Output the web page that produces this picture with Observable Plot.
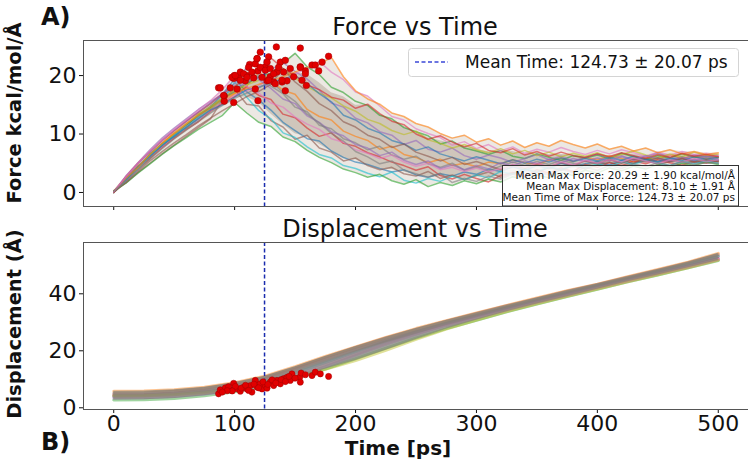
<!DOCTYPE html>
<html><head><meta charset="utf-8">
<script src="https://cdn.jsdelivr.net/npm/d3@7"></script>
<script src="https://cdn.jsdelivr.net/npm/@observablehq/plot@0.6"></script>
<style>
body{margin:0;background:#fff;font-family:"DejaVu Sans",sans-serif;}
#wrap{position:relative;width:748px;height:468px;overflow:hidden;background:#fff;}
#wrap > svg{position:absolute;left:0;}
</style></head><body><div id="wrap"></div><script>
// ---- data ----
const timeF = [0,10,20,30,40,50,60,70,80,90,100,110,120,130,140,150,160,170,180,190,200,210,220,230,240,250,260,270,280,290,300,310,320,330,340,350,360,370,380,390,400,410,420,430,440,450,460,470,480,490,500];
const forceRun01 = [0.0,2.1,4.3,6.4,8.0,9.9,11.5,13.0,14.6,16.8, 19.4,17.2,15.8,14.1,12.0,10.6,9.2,8.8,7.1,6.0, 5.2,4.8,4.1,3.5,3.9,3.0,2.6,3.2,2.8,3.5, 3.1,4.0,3.6,4.4,3.8,4.6,4.1,5.0,4.5,4.9, 5.3,4.7,5.5,5.0,5.8,5.2,5.6,6.1,5.4,5.9, 5.5];
const forceRun02 = [0.2,2.5,4.6,6.1,8.4,10.1,11.0,12.7,14.2,15.3, 16.9,18.2,20.6,19.1,17.5,16.8,14.2,13.0,12.4,10.5, 9.6,8.9,7.4,7.9,6.5,6.0,5.1,5.7,4.6,5.0, 4.4,5.2,4.9,5.6,5.1,4.8,5.5,5.9,5.3,6.0, 5.6,6.3,5.8,5.2,6.0,5.7,6.4,5.9,6.2,5.8, 6.1];
const forceRun03 = [0.0,2.3,4.1,6.6,8.3,9.5,11.4,13.3,14.5,16.0, 17.2,18.6,19.8,20.4,22.1,23.8,21.5,20.2,18.0,17.1, 15.6,14.9,13.2,12.6,11.1,10.4,9.7,8.3,8.8,7.6, 7.1,6.5,7.2,6.2,5.8,6.6,6.0,5.5,6.3,5.9, 6.4,5.8,6.7,6.1,5.6,6.3,5.9,6.6,6.0,6.2, 5.9];
const forceRun04 = [0.1,1.9,4.0,5.8,7.7,9.3,10.8,12.1,13.9,15.2, 16.4,18.1,16.6,15.9,13.4,12.8,11.0,9.6,10.2,8.4, 7.9,6.8,6.1,5.2,4.6,3.8,4.4,2.9,2.3,3.1, 2.4,1.8,2.9,3.4,2.7,3.9,3.3,4.2,3.6,4.8, 4.3,5.1,4.6,5.4,4.9,5.6,5.1,4.7,5.3,5.0, 5.4];
const forceRun05 = [0.0,2.8,5.1,7.3,9.3,11.0,12.6,14.2,15.6,16.8, 17.6,18.9,19.7,21.0,22.2,20.7,19.4,17.5,15.3,14.6, 12.7,11.9,10.4,9.8,8.2,8.9,7.4,6.9,7.6,6.3, 5.7,6.4,5.9,5.1,5.8,6.5,5.6,6.2,5.4,6.0, 6.6,5.9,6.3,5.5,6.1,6.8,6.0,5.7,6.4,6.1, 6.3];
const forceRun06 = [0.3,1.6,3.4,5.0,6.6,8.1,9.6,11.1,12.6,15.9, 17.6,15.1,14.8,12.3,11.2,9.1,9.8,7.6,6.9,5.4, 5.9,4.6,3.9,4.3,3.2,2.8,3.6,2.4,3.0,2.2, 2.9,3.5,2.6,3.3,4.0,3.4,4.3,3.8,4.6,4.0, 4.7,5.2,4.5,5.0,5.6,4.8,5.3,5.8,5.1,5.5, 5.2];
const forceRun07 = [0.1,2.0,4.2,6.2,7.9,9.6,11.3,12.5,14.0,15.4, 16.6,17.4,18.3,19.5,18.8,20.3,21.2,22.4,20.6,19.3, 17.2,16.5,14.8,13.0,12.4,10.9,10.1,9.4,8.1,8.7, 7.5,8.2,7.1,7.8,6.7,7.4,6.9,7.7,7.0,6.5, 7.2,6.6,7.3,6.8,6.2,6.9,6.4,7.0,6.5,6.7, 6.4];
const forceRun08 = [0.0,2.2,4.4,6.0,8.1,9.8,11.6,13.1,14.8,16.1, 17.4,18.7,20.1,18.2,16.9,14.6,13.8,11.5,10.9,9.2, 8.5,7.3,7.9,6.4,5.7,6.2,4.9,4.3,5.0,3.8, 4.4,3.7,4.5,5.2,4.6,5.3,4.8,5.5,5.0,4.6, 5.2,5.7,5.1,5.8,5.4,6.0,5.5,5.1,5.7,5.3, 5.6];
const forceRun09 = [0.2,2.3,4.3,6.5,8.2,10.0,11.7,13.4,14.7,16.2, 17.5,18.4,19.2,20.0,21.1,19.6,18.1,17.0,16.2,14.8, 13.9,12.5,11.8,10.6,9.9,10.5,9.0,8.4,7.6,8.2, 7.3,6.8,7.5,6.6,7.2,6.3,6.9,6.1,6.7,6.2, 6.8,6.0,6.5,7.1,6.4,5.9,6.6,6.1,6.9,6.3, 6.6];
const forceRun10 = [0.0,2.2,4.0,6.3,8.2,9.7,11.2,12.8,14.3,15.8, 18.9,16.3,14.0,12.6,10.2,9.4,7.8,6.5,5.9,4.6, 4.1,3.3,2.7,3.5,2.1,1.6,2.4,1.9,2.8,2.2, 3.0,2.5,3.6,3.1,4.0,3.5,4.4,3.9,4.7,4.2, 4.9,4.4,5.2,4.8,5.5,5.0,4.6,5.3,4.9,5.4, 5.0];
const forceRun11 = [0.1,2.1,4.4,6.2,8.0,9.6,11.1,12.6,14.1,15.0, 16.3,17.6,18.0,18.8,19.4,20.0,18.6,16.9,15.5,13.2, 12.4,11.0,10.2,8.9,8.3,7.2,7.8,6.6,6.0,5.4, 6.1,5.5,4.9,5.6,5.0,5.7,5.2,5.9,5.3,5.8, 5.4,6.0,5.5,6.2,5.7,5.3,5.9,5.4,6.1,5.7, 6.0];
const forceRun12 = [0.0,2.4,4.2,6.5,8.4,10.2,11.8,13.2,14.4,15.9, 17.0,17.8,18.5,19.1,19.8,20.6,21.4,21.9,23.1,19.8, 17.4,16.0,15.1,13.6,13.0,11.8,11.2,10.1,9.3,9.8, 8.6,9.2,8.1,8.8,7.7,8.5,7.9,8.9,8.2,7.6, 8.3,7.4,7.9,7.1,7.6,6.8,7.3,6.6,7.0,6.5, 6.8];
const forceRun13 = [0.2,1.6,3.3,4.9,6.5,8.0,9.4,10.8,12.0,13.2, 15.4,13.6,12.0,11.3,9.5,8.7,7.2,6.0,5.1,4.0, 3.4,2.6,3.1,2.0,1.4,2.2,1.0,1.7,1.2,2.0, 1.5,2.3,1.8,2.7,2.2,3.0,2.5,3.4,2.9,3.8, 3.3,4.2,3.7,4.5,4.0,4.8,4.3,5.0,4.6,5.2, 4.8];
const forceRun14 = [0.0,2.7,5.0,7.0,8.9,10.6,12.2,13.7,15.2,16.9, 18.2,19.5,20.8,23.0,21.2,20.0,18.4,17.6,16.3,15.8, 14.4,15.1,13.5,12.2,11.6,10.0,9.1,9.7,8.6,7.8, 8.4,7.2,6.8,7.5,6.4,7.0,6.2,6.9,6.3,6.0, 6.6,6.1,6.8,6.3,5.8,6.5,6.0,6.7,6.2,6.5, 6.1];
const forceRun15 = [0.1,2.6,4.9,6.9,8.9,10.6,12.2,13.8,15.3,16.9, 18.6,21.4,19.3,17.8,16.0,15.2,13.1,12.0,10.4,9.7, 8.2,7.6,6.3,6.9,5.5,4.8,5.4,4.1,4.7,3.9, 4.6,4.0,5.1,4.5,5.4,4.9,5.7,5.1,5.8,5.3, 5.9,5.4,6.1,5.6,6.3,5.8,5.3,6.0,5.5,6.2, 5.7];
const forceRun16 = [0.0,1.7,3.6,5.4,7.0,8.5,9.9,11.4,12.7,14.0, 15.2,16.4,17.3,18.5,21.2,18.9,17.3,15.2,14.0,12.1, 11.2,9.8,9.1,7.7,8.3,6.9,6.2,5.4,6.0,4.8, 5.3,4.6,3.9,4.7,4.1,4.9,4.4,5.1,4.6,5.4, 4.9,5.6,5.0,5.7,5.2,5.9,5.3,5.8,5.2,5.6, 5.3];
const forceRun17 = [0.1,2.7,5.0,7.1,9.0,10.8,12.4,14.1,15.7,17.6, 20.0,18.1,17.0,15.3,14.6,12.9,11.7,10.8,9.2,8.6, 7.3,6.7,5.8,6.4,5.2,4.5,5.0,3.9,4.3,3.6, 4.2,3.5,4.1,4.8,4.3,5.0,4.4,5.2,4.7,5.5, 5.0,5.6,5.2,5.9,5.4,4.9,5.6,5.2,5.8,5.3, 5.6];
const forceRun18 = [0.2,1.9,3.8,5.7,7.5,9.2,10.7,12.2,13.6,14.9, 16.1,17.0,17.9,19.0,17.1,15.6,13.4,11.9,10.1,8.8, 7.0,6.1,4.9,5.4,3.8,3.2,2.6,3.3,1.7,2.4, 1.9,2.8,2.3,3.1,2.6,3.6,3.0,3.9,3.4,4.3, 3.8,4.6,4.1,4.9,4.4,5.1,4.6,5.3,4.8,5.1, 5.0];

const timeD = [0,25,50,75,100,125,150,175,200,225,250,275,300,325,350,375,400,425,450,475,500];
const dispRun01 = [4.0,4.1,4.6,5.5,7.0,9.0,12.3,15.9,19.6,23.2,26.5,29.6,32.2,35.0,37.7,40.2,42.8,45.3,47.8,50.2,53.1];
const dispRun02 = [5.8,5.9,6.3,7.2,8.8,11.1,14.4,18.0,21.4,24.7,27.8,30.6,33.3,35.9,38.5,41.1,43.4,46.0,48.5,51.1,54.2];
const dispRun03 = [2.7,2.8,3.3,4.2,5.6,7.5,10.3,13.6,17.2,20.9,24.5,27.8,30.7,33.7,36.4,39.0,41.6,44.2,46.6,49.1,51.7];
const dispRun04 = [4.6,4.7,5.2,6.2,7.8,10.1,13.5,17.0,20.4,23.6,26.7,29.5,32.3,34.9,37.4,40.0,42.4,44.9,47.3,49.8,52.4];
const dispRun05 = [3.4,3.5,4.0,4.8,6.1,8.0,10.8,14.4,18.4,22.2,25.7,28.9,31.6,34.4,37.0,39.5,42.1,44.5,47.0,49.4,52.1];
const dispRun06 = [5.1,5.2,5.8,6.8,8.5,10.7,14.0,17.7,21.2,24.5,27.5,30.4,33.1,35.8,38.3,40.9,43.3,45.8,48.3,50.9,53.7];
const dispRun07 = [3.9,4.0,4.4,5.2,6.5,8.4,11.4,15.0,18.8,22.6,26.0,29.0,31.6,34.2,36.9,39.4,42.0,44.5,47.0,49.4,52.0];
const dispRun08 = [4.3,4.4,4.9,5.8,7.4,9.6,12.9,16.5,20.1,23.5,26.6,29.7,32.5,35.3,38.0,40.5,43.0,45.4,47.9,50.5,53.2];
const dispRun09 = [4.1,4.2,4.6,5.3,6.6,8.3,10.9,13.5,16.6,20.2,24.0,27.6,30.8,33.8,36.5,39.1,41.7,44.2,46.7,49.1,51.8];

// time and value of each run's maximum force (red dots)
const peakTimeF  = [86.7,91.4,91.4,96.4,99.2,99.7,103.3,104.7,108.8,110.2,112.4,115.7,117.1,118.5,119.3,121.2,119.3,125.4,126.8,128.1,129.4,132.3,134.5,135.0,137.8,139.2,141.9,143.3,146.0,148.8,154.3,154.3,155.7,158.5,159.3,164.0,166.7,169.5,172.3,177.7,88.1,97.8,100.5,104.7,107.4,110.2,111.5,114.3,117.1,118.5,121.2,122.6,125.4,126.8,128.1,129.5,132.3,133.6,136.4,139.2,140.5,154.3,158.5,99.2,90.9,102.0,141.9];
const peakForce  = [17.9,16.5,15.6,17.9,19.5,20.0,19.6,20.6,19.1,20.0,21.9,19.6,17.7,22.9,20.8,24.0,15.7,21.5,19.1,23.2,19.8,18.9,24.9,20.6,22.3,18.9,22.6,19.1,21.2,19.8,24.7,21.5,19.2,20.8,18.3,21.8,21.8,20.8,22.3,23.3,17.9,19.7,20.0,19.2,20.3,19.7,21.4,20.6,22.0,22.9,21.4,19.7,20.9,22.3,19.2,21.2,20.3,18.6,21.4,19.2,20.6,21.4,20.3,15.4,16.6,17.7,17.4];
// time and displacement at max force (red dots, panel B)
const peakTimeD  = [86.7,88.1,92.3,96.4,99.2,101.9,104.7,107.4,110.2,113.0,114.3,117.1,118.5,121.2,122.6,125.4,126.8,129.5,132.3,135.0,137.8,140.5,143.3,146.0,147.4,153.8,154.3,155.0,158.5,164.0,166.7,170.9,177.7,100.6,105.5,109.0,111.5,116.0,119.8,123.5,127.5,131.0,134.0,138.5,142.0,145.0,150.0,95.0,98.0,93.8,89.8];
const peakDisp   = [4.9,6.3,7.0,6.3,8.6,6.7,5.8,7.2,6.6,7.8,5.5,9.6,7.2,8.4,6.6,7.8,6.9,9.0,7.8,9.6,8.4,10.2,10.7,9.6,11.9,10.7,9.0,12.2,11.6,11.3,12.5,11.9,11.0,7.5,6.9,7.9,6.1,8.3,7.0,9.1,8.2,9.8,8.7,9.9,9.2,11.0,10.4,7.4,5.9,6.0,5.5];

const meanTime = 124.73;
const xTicks = [0,100,200,300,400,500];
const forceTicks = [0,10,20];
const dispTicks = [0,20,40];
const legendLabel = "Mean Time: 124.73 ± 20.07 ps";
const statsLines = ["Mean Max Force: 20.29 ± 1.90 kcal/mol/Å","Mean Max Displacement: 8.10 ± 1.91 Å","Mean Time of Max Force: 124.73 ± 20.07 ps"];

const tab10 = ["#1f77b4","#ff7f0e","#2ca02c","#d62728","#9467bd","#8c564b","#e377c2","#7f7f7f","#bcbd22","#17becf"];

// ---- build tables ----
const forceTraces = [forceRun01,forceRun02,forceRun03,forceRun04,forceRun05,forceRun06,forceRun07,forceRun08,forceRun09,forceRun10,forceRun11,forceRun12,forceRun13,forceRun14,forceRun15,forceRun16,forceRun17,forceRun18];
const dispTraces = [dispRun01,dispRun02,dispRun03,dispRun04,dispRun05,dispRun06,dispRun07,dispRun08,dispRun09];
const forceRows = [];
forceTraces.forEach((vals,k)=>vals.forEach((v,i)=>forceRows.push({run:k,t:timeF[i],v})));
const dispRows = [];
dispTraces.forEach((vals,k)=>vals.forEach((v,i)=>dispRows.push({run:k,t:timeD[i],v})));
const bandOf = (traces,times,q0,q1)=>times.map((t,i)=>{
  const col = traces.map(a=>a[i]).sort(d3.ascending);
  return {t,lo:d3.quantileSorted(col,q0),hi:d3.quantileSorted(col,q1)};
});
const forceBand = bandOf(forceTraces,timeF,0,1);
const forceCore = bandOf(forceTraces,timeF,0.15,0.85);
const dispBand = bandOf(dispTraces,timeD,0,1);
const peaksF = peakTimeF.map((t,i)=>({t,v:peakForce[i]}));
const peaksD = peakTimeD.map((t,i)=>({t,v:peakDisp[i]}));

const xDom = [-25,525];
const fDom = [-2.4,26];
const dDom = [-0.6,58];
const spine = "#555";
const commonStyle = {fontFamily:"DejaVu Sans, sans-serif",fontSize:"22px",color:"#111",background:"transparent",overflow:"visible"};

const panelA = Plot.plot({
  width:748,height:215,marginLeft:83,marginRight:0,marginTop:40,marginBottom:9,
  style:commonStyle,
  color:{type:"identity"},
  x:{domain:xDom,ticks:xTicks,tickFormat:()=>"",tickSize:4,label:null},
  y:{domain:fDom,ticks:forceTicks,tickSize:4,tickPadding:3,label:null},
  marks:[
    Plot.areaY(forceBand,{x:"t",y1:"lo",y2:"hi",fill:"#a8977e",fillOpacity:0.22}),
    Plot.areaY(forceCore,{x:"t",y1:"lo",y2:"hi",fill:"#94836a",fillOpacity:0.33}),
    Plot.line(forceRows,{x:"t",y:"v",z:"run",stroke:d=>tab10[d.run%10],strokeWidth:1.5,strokeOpacity:0.6}),
    Plot.ruleX([meanTime],{stroke:"#1a2cae",strokeWidth:1.5,strokeDasharray:"4,2.5"}),
    Plot.dot(peaksF,{x:"t",y:"v",r:3.3,fill:"#e10000",stroke:"#a00000",strokeWidth:0.5}),
    Plot.ruleX([xDom[0]],{stroke:spine}),
    Plot.ruleY([fDom[1]],{stroke:spine}),
    Plot.ruleY([fDom[0]],{stroke:spine})
  ]
});
panelA.style.top="0px";

const panelB = Plot.plot({
  width:748,height:253,marginLeft:83,marginRight:0,marginTop:27,marginBottom:59,
  style:commonStyle,
  color:{type:"identity"},
  x:{domain:xDom,ticks:xTicks,tickSize:4,tickPadding:2,label:null},
  y:{domain:dDom,ticks:dispTicks,tickSize:4,tickPadding:3,label:null},
  marks:[
    Plot.line(dispRows,{x:"t",y:"v",z:"run",stroke:d=>tab10[d.run%10],strokeWidth:3,strokeOpacity:0.45}),
    Plot.areaY(dispBand,{x:"t",y1:"lo",y2:"hi",fill:"#858379",fillOpacity:0.7}),
    Plot.ruleX([meanTime],{stroke:"#1a2cae",strokeWidth:1.5,strokeDasharray:"4,2.5"}),
    Plot.dot(peaksD,{x:"t",y:"v",r:3.1,fill:"#e10000",stroke:"#a00000",strokeWidth:0.5}),
    Plot.ruleX([xDom[0]],{stroke:spine}),
    Plot.ruleY([dDom[1]],{stroke:spine}),
    Plot.ruleY([dDom[0]],{stroke:spine})
  ]
});
panelB.style.top="215px";

const wrap = document.getElementById("wrap");
wrap.appendChild(panelA);
wrap.appendChild(panelB);

// ---- annotations overlay ----
const ov = d3.select(wrap).append("svg").attr("width",748).attr("height",468)
  .style("top","0px").style("pointer-events","none")
  .attr("font-family","DejaVu Sans, sans-serif");
const txt = (x,y,s,size,opts={})=>{
  const t = ov.append("text").attr("x",x).attr("y",y).attr("font-size",size).attr("fill","#111").text(s);
  if(opts.anchor) t.attr("text-anchor",opts.anchor);
  if(opts.bold) t.attr("font-weight","bold");
  if(opts.rotate) t.attr("transform",`rotate(-90,${x},${y})`);
  return t;
};
txt(415,35,"Force vs Time",24,{anchor:"middle"});
txt(415,236.5,"Displacement vs Time",24,{anchor:"middle"});
txt(21,113,"Force kcal/mol/Å",19.5,{anchor:"middle",bold:true,rotate:true});
txt(21,324,"Displacement (Å)",19.5,{anchor:"middle",bold:true,rotate:true});
txt(398,455,"Time [ps]",20,{anchor:"middle",bold:true});
txt(41,25,"A)",24,{bold:true});
txt(41,450,"B)",24,{bold:true});

// legend
ov.append("rect").attr("x",408.5).attr("y",48.5).attr("width",330).attr("height",28).attr("rx",3)
  .attr("fill","#fff").attr("fill-opacity",0.85).attr("stroke","#d4d4d4");
ov.append("line").attr("x1",415).attr("x2",448).attr("y1",62).attr("y2",62)
  .attr("stroke","#3b48d8").attr("stroke-width",1.5).attr("stroke-dasharray","4,2.5");
txt(465,68,legendLabel,17);

// stats box
ov.append("rect").attr("x",502.5).attr("y",165.5).attr("width",236).attr("height",40.5)
  .attr("fill","#fff").attr("fill-opacity",0.82).attr("stroke","#333").attr("stroke-width",1);
statsLines.forEach((s,i)=>txt(735,179+i*11,s,10.5,{anchor:"end"}));
</script></body></html>
